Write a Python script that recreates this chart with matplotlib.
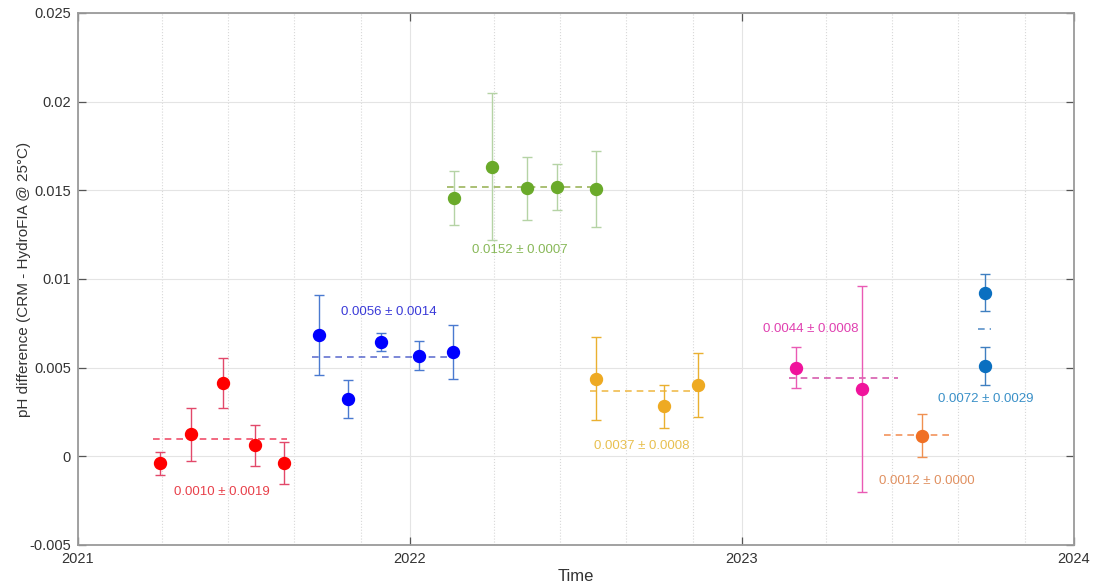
import numpy as np
import matplotlib
matplotlib.use("Agg")
import matplotlib.pyplot as plt

plt.rcParams['font.family'] = ['Liberation Sans', 'DejaVu Sans']

# sample dates (decimal years), pH difference and 1-sigma of each run
red_t = [2021.247, 2021.339, 2021.436, 2021.532, 2021.621]
red_v = [-0.0004, 0.00124, 0.00413, 0.00062, -0.00038]
red_e = [0.00065, 0.00148, 0.00142, 0.00117, 0.00119]

blue_t = [2021.726, 2021.814, 2021.913, 2022.027, 2022.130]
blue_v = [0.00682, 0.00323, 0.00643, 0.00566, 0.00588]
blue_e = [0.00225, 0.00107, 0.00050, 0.00082, 0.00152]

green_t = [2022.132, 2022.247, 2022.352, 2022.443, 2022.561]
green_v = [0.01458, 0.01633, 0.01511, 0.01519, 0.01507]
green_e = [0.00151, 0.00415, 0.00178, 0.00128, 0.00216]

yellow_t = [2022.560, 2022.766, 2022.867]
yellow_v = [0.00436, 0.00282, 0.00400]
yellow_e = [0.00234, 0.00120, 0.00180]

magenta_t = [2023.162, 2023.361]
magenta_v = [0.00500, 0.00380]
magenta_e = [0.00115, 0.00580]

orange_t = [2023.542]
orange_v = [0.00116]
orange_e = [0.00122]

lblue_t = [2023.731, 2023.731]
lblue_v = [0.00923, 0.00508]
lblue_e = [0.00105, 0.00107]

# mean offset and std for each sensor deployment, plus period covered
means = [0.0010, 0.0056, 0.0152, 0.0037, 0.0044, 0.0012, 0.0072]
stds = [0.0019, 0.0014, 0.0007, 0.0008, 0.0008, 0.0000, 0.0029]
periods = [(2021.226, 2021.630), (2021.705, 2022.120), (2022.110, 2022.579),
           (2022.542, 2022.863), (2023.142, 2023.469), (2023.428, 2023.639),
           (2023.711, 2023.749)]

groups = [
    (red_t, red_v, red_e, '#ff0000', '#e2486a', '#e8404a', (2021.434, -0.00201)),
    (blue_t, blue_v, blue_e, '#0000ff', '#4a7ad0', '#3a3ad8', (2021.937, 0.00814)),
    (green_t, green_v, green_e, '#6aaa2a', '#b5d3a5', '#88b858', (2022.331, 0.01164)),
    (yellow_t, yellow_v, yellow_e, '#eeaa22', '#eab030', '#e8c050', (2022.698, 0.00058)),
    (magenta_t, magenta_v, magenta_e, '#f0139c', '#ea5ab4', '#e040b0', (2023.208, 0.00718)),
    (orange_t, orange_v, orange_e, '#f07024', '#f09050', '#e09060', (2023.556, -0.00139)),
    (lblue_t, lblue_v, lblue_e, '#0a6fc0', '#3f7fc0', '#3a90c8', (2023.735, 0.00325)),
]
line_cols = ['#ee3050', '#4a5ac8', '#8aa840', '#eeb030', '#d040a0', '#f08040', '#3f7fc0']

fig = plt.figure(figsize=(10.93, 5.87), dpi=100)
ax = fig.add_axes([0.0714, 0.0716, 0.9112, 0.9063])

for i, (t, v, e, mc, ec, tc, lpos) in enumerate(groups):
    ax.plot(periods[i], [means[i], means[i]], '--', color=line_cols[i], lw=1.2,
            dashes=(4, 3), alpha=0.85, zorder=3)
    ax.errorbar(t, v, yerr=e, fmt='none', ecolor=ec, elinewidth=1.0,
                capsize=3.5, capthick=1.0, zorder=4)
    ax.plot(t, v, 'o', color=mc, ms=8.6, mec=mc, zorder=5)
    ax.text(lpos[0], lpos[1], '%.4f \u00b1 %.4f' % (means[i], stds[i]),
            color=tc, fontsize=9.5, ha='center', va='center')

ax.set_xlim(2021, 2024)
ax.set_ylim(-0.005, 0.025)
ax.set_xticks([2021, 2022, 2023, 2024])
ax.set_xticklabels(['2021', '2022', '2023', '2024'])
yt = [-0.005, 0, 0.005, 0.01, 0.015, 0.02, 0.025]
ax.set_yticks(yt)
ax.set_yticklabels(['-0.005', '0', '0.005', '0.01', '0.015', '0.02', '0.025'])

minor = []
for yr in [2021, 2022, 2023]:
    for f in [0.253, 0.453, 0.652, 0.852]:
        minor.append(yr + f)
ax.set_xticks(minor, minor=True)
ax.tick_params(axis='x', which='minor', length=0)

ax.grid(True, which='major', color='#e4e4e4', lw=0.8, zorder=0)
ax.grid(True, which='minor', axis='x', color='#d8d8d8', lw=0.8, ls=':', zorder=0)
ax.set_axisbelow(True)

ax.tick_params(axis='both', which='major', direction='in', length=6,
               width=0.9, color='#555555', labelsize=10.5, labelcolor='#333333',
               top=True, right=True, pad=5)
for s in ax.spines.values():
    s.set_color('#9a9a9a')
    s.set_linewidth(1.3)

ax.set_xlabel('Time', fontsize=12, color='#333333', labelpad=2)
ax.set_ylabel('pH difference (CRM - HydroFIA @ 25\u00b0C)', fontsize=11,
              color='#333333', labelpad=-1)

fig.savefig('out.png', dpi=100)
